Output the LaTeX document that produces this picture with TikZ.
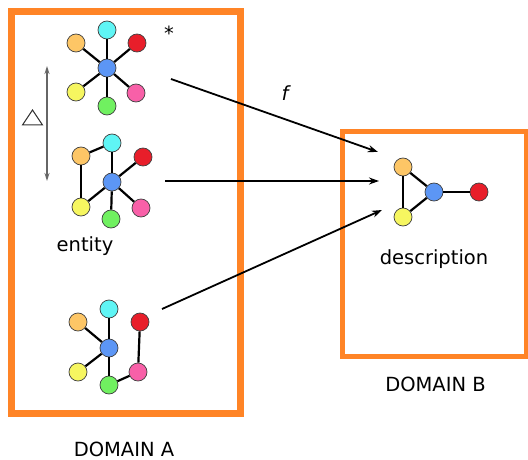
\documentclass[tikz,border=0pt]{standalone}
\usepackage{fontspec}
\setmainfont{DejaVu Sans}
\usetikzlibrary{arrows.meta}
\definecolor{domor}{RGB}{255,132,38}
\definecolor{cOr}{RGB}{253,198,102}
\definecolor{cCy}{RGB}{95,245,245}
\definecolor{cRe}{RGB}{232,30,42}
\definecolor{cBl}{RGB}{92,150,245}
\definecolor{cYe}{RGB}{246,246,96}
\definecolor{cGr}{RGB}{112,240,96}
\definecolor{cPi}{RGB}{248,96,168}
\begin{document}
\begin{tikzpicture}[x=1pt,y=-1pt,
  vtx/.style={circle, draw=black!75, line width=0.7pt, minimum size=18pt, inner sep=0pt},
  lnk/.style={line width=2.2pt, black},
  maparrow/.style={line width=1.8pt, black, -{Stealth[length=10pt,width=7pt]}},
  lbl/.style={font=\fontsize{19.5}{21}\selectfont, inner sep=0pt, anchor=base},
  domainbox/.style={draw=domor}]
\useasboundingbox (0,0) rectangle (528,460);
% domain boxes
\draw[domainbox, line width=7pt] (11.5,11.5) rectangle (240,413);
\draw[domainbox, line width=5pt] (342.5,131) rectangle (526,356);
% graph 1
\node[vtx, fill=cBl] (b1) at (107,68) {};
\node[vtx, fill=cCy] (c1) at (107,30) {};
\node[vtx, fill=cOr] (o1) at (76,43) {};
\node[vtx, fill=cRe] (r1) at (137,43) {};
\node[vtx, fill=cYe] (y1) at (76,92) {};
\node[vtx, fill=cGr] (g1) at (107,106) {};
\node[vtx, fill=cPi] (p1) at (136,93) {};
\foreach \n in {c1,o1,r1,y1,g1,p1} \draw[lnk] (b1) -- (\n);
\node[lbl] (star) at (169,41) {*};
% graph 2
\node[vtx, fill=cBl] (b2) at (112,182) {};
\node[vtx, fill=cCy] (c2) at (112,143) {};
\node[vtx, fill=cOr] (o2) at (81,156) {};
\node[vtx, fill=cRe] (r2) at (143,157) {};
\node[vtx, fill=cYe] (y2) at (81,207) {};
\node[vtx, fill=cGr] (g2) at (111,219) {};
\node[vtx, fill=cPi] (p2) at (141,208) {};
\draw[lnk] (o2) -- (c2);
\draw[lnk] (o2) -- (y2);
\foreach \n in {c2,r2,y2,g2,p2} \draw[lnk] (b2) -- (\n);
\node[lbl] (entity) at (85,251) {entity};
% graph 3
\node[vtx, fill=cBl] (b3) at (109,348) {};
\node[vtx, fill=cCy] (c3) at (109,309) {};
\node[vtx, fill=cOr] (o3) at (78,322) {};
\node[vtx, fill=cRe] (r3) at (140,322) {};
\node[vtx, fill=cYe] (y3) at (78,372) {};
\node[vtx, fill=cGr] (g3) at (109,385) {};
\node[vtx, fill=cPi] (p3) at (138,372) {};
\foreach \n in {c3,o3,y3,g3} \draw[lnk] (b3) -- (\n);
\draw[lnk] (g3) -- (p3);
\draw[lnk] (p3) -- (r3);
% description graph
\node[vtx, fill=cOr] (o4) at (403,167) {};
\node[vtx, fill=cYe] (y4) at (403,217) {};
\node[vtx, fill=cBl] (b4) at (434,192) {};
\node[vtx, fill=cRe] (r4) at (479,192) {};
\draw[lnk] (o4) -- (y4);
\draw[lnk] (o4) -- (b4);
\draw[lnk] (y4) -- (b4);
\draw[lnk] (b4) -- (r4);
\node[lbl] (desc) at (434,264) {description};
% delta arrow and triangle
\coordinate (du) at (47,66);
\coordinate (dd) at (47,181);
\draw[line width=1.3pt, black!60, {Stealth[length=8pt,width=5pt]}-{Stealth[length=8pt,width=5pt]}] (du) -- (dd);
\draw[line width=1pt, black!80, line join=miter] (22.5,125) -- (32.5,110) -- (42.5,125) -- cycle;
% mapping arrows
\coordinate (s1) at (171,79);
\coordinate (t1) at (378,152);
\coordinate (s2) at (165,181);
\coordinate (t2) at (379,181);
\coordinate (s3) at (162,309);
\coordinate (t3) at (382,210);
\draw[maparrow] (s1) -- (t1);
\draw[maparrow] (s2) -- (t2);
\draw[maparrow] (s3) -- (t3);
\node[lbl, font=\fontsize{19.5}{21}\selectfont\itshape] (f) at (285,100) {f};
% domain labels
\node[lbl, text depth=0pt] (domA) at (124,456) {DOMAIN A};
\node[lbl, text depth=0pt] (domB) at (435.5,391) {DOMAIN B};
\end{tikzpicture}
\end{document}
